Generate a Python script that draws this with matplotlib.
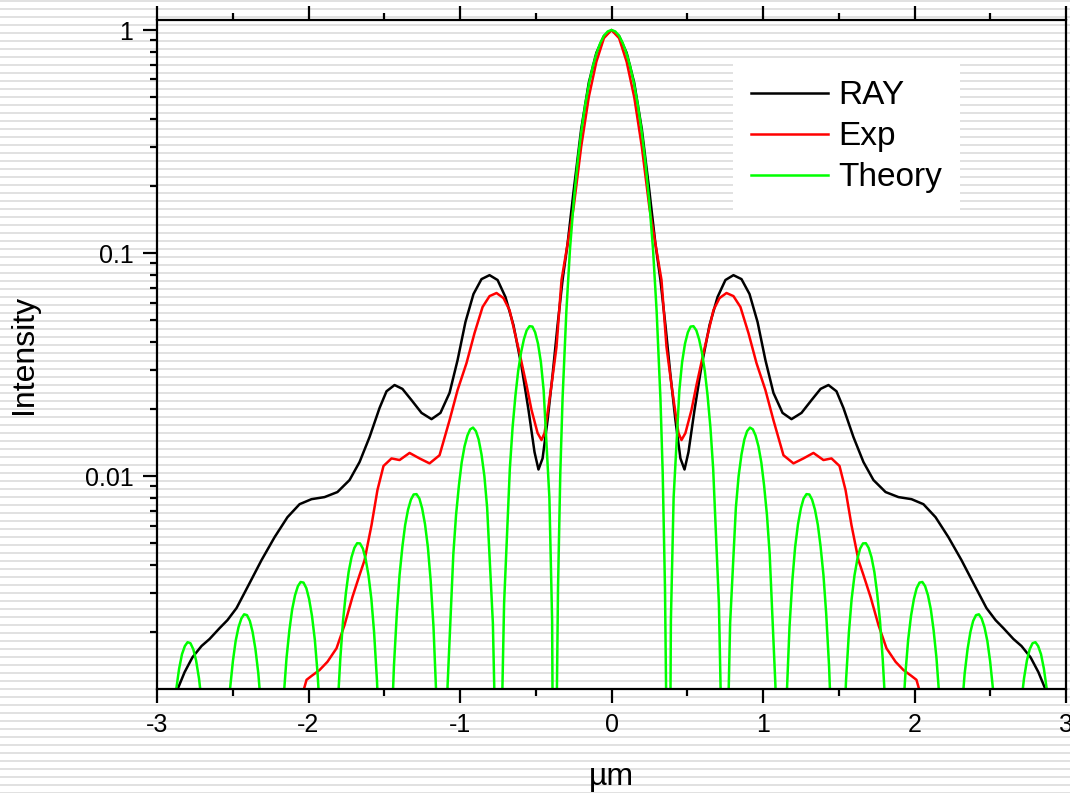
import numpy as np
import matplotlib.pyplot as plt

plt.rcParams['font.family'] = ['Liberation Sans', 'DejaVu Sans']
plt.rcParams['axes.unicode_minus'] = False

# RAY (black)
ray_x = [-2.878, -2.818, -2.766, -2.706, -2.653, -2.587, -2.535, -2.475, -2.389, -2.310, -2.224, -2.139,
         -2.059, -1.980, -1.894, -1.809, -1.729, -1.663, -1.597, -1.531, -1.485, -1.432, -1.380, -1.320,
         -1.254, -1.188, -1.129, -1.069, -1.016, -0.964, -0.911, -0.858, -0.805, -0.752, -0.700, -0.647,
         -0.594, -0.548, -0.508, -0.482, -0.455, -0.422, -0.389, -0.356, -0.323, -0.29, -0.25, -0.2,
         -0.15, -0.1, -0.05, 0.0,
         0.05, 0.1, 0.15, 0.2, 0.25, 0.29, 0.323, 0.356, 0.389, 0.422, 0.455, 0.482,
         0.508, 0.548, 0.594, 0.647, 0.700, 0.752, 0.805, 0.858, 0.911, 0.964, 1.016, 1.069,
         1.129, 1.188, 1.254, 1.320, 1.380, 1.432, 1.485, 1.531, 1.597, 1.663, 1.729, 1.809,
         1.894, 1.980, 2.059, 2.139, 2.224, 2.310, 2.389, 2.475, 2.535, 2.587, 2.653, 2.706,
         2.766, 2.818, 2.878]
ray_y = [0.00105, 0.00132, 0.00154, 0.00173, 0.00186, 0.00208, 0.00226, 0.00256, 0.00331, 0.0042, 0.00532, 0.00654,
         0.00748, 0.00788, 0.00805, 0.00848, 0.0096, 0.01156, 0.01496, 0.0202, 0.0240, 0.0256, 0.0246, 0.0219,
         0.0192, 0.0180, 0.0192, 0.0236, 0.0331, 0.0491, 0.0655, 0.0764, 0.0796, 0.0757, 0.0635, 0.0475,
         0.0311, 0.0198, 0.0128, 0.0107, 0.0120, 0.0178, 0.0284, 0.0475, 0.0757, 0.11, 0.19, 0.36,
         0.58, 0.79, 0.94, 1.0,
         0.94, 0.79, 0.58, 0.36, 0.19, 0.11, 0.0757, 0.0475, 0.0284, 0.0178, 0.0120, 0.0107,
         0.0128, 0.0198, 0.0311, 0.0475, 0.0635, 0.0757, 0.0796, 0.0764, 0.0655, 0.0491, 0.0331, 0.0236,
         0.0192, 0.0180, 0.0192, 0.0219, 0.0246, 0.0256, 0.0240, 0.0202, 0.01496, 0.01156, 0.0096, 0.00848,
         0.00805, 0.00788, 0.00748, 0.00654, 0.00532, 0.0042, 0.00331, 0.00256, 0.00226, 0.00208, 0.00186, 0.00173,
         0.00154, 0.00132, 0.00105]

# Exp (red)
exp_x = [-2.040, -2.013, -1.980, -1.927, -1.875, -1.815, -1.762, -1.710, -1.663, -1.630, -1.584, -1.545,
         -1.505, -1.452, -1.399, -1.333, -1.267, -1.201, -1.135, -1.069, -1.016, -0.957, -0.904, -0.851,
         -0.805, -0.759, -0.713, -0.673, -0.607, -0.561, -0.528, -0.488, -0.462, -0.442, -0.422, -0.396,
         -0.363, -0.330, -0.30, -0.25, -0.2, -0.15, -0.1, -0.05, 0.0,
         0.05, 0.1, 0.15, 0.2, 0.25, 0.30, 0.330, 0.363, 0.396, 0.422, 0.442, 0.462,
         0.488, 0.528, 0.561, 0.607, 0.673, 0.713, 0.759, 0.805, 0.851, 0.904, 0.957, 1.016,
         1.069, 1.135, 1.201, 1.267, 1.333, 1.399, 1.452, 1.505, 1.545, 1.584, 1.630, 1.663,
         1.710, 1.762, 1.815, 1.875, 1.927, 1.980, 2.013, 2.040]
exp_y = [0.00105, 0.00122, 0.00127, 0.00135, 0.00147, 0.00169, 0.00215, 0.00287, 0.0036, 0.0042, 0.00603, 0.00865,
         0.0111, 0.0120, 0.0118, 0.0127, 0.0120, 0.0114, 0.0124, 0.0178, 0.0243, 0.0321, 0.0438, 0.0573,
         0.0641, 0.0662, 0.0628, 0.0555, 0.0356, 0.0256, 0.0198, 0.0156, 0.0145, 0.0156, 0.0192, 0.0256,
         0.0379, 0.0757, 0.10, 0.16, 0.30, 0.50, 0.72, 0.92, 1.0,
         0.92, 0.72, 0.50, 0.30, 0.16, 0.10, 0.0757, 0.0379, 0.0256, 0.0192, 0.0156, 0.0145,
         0.0156, 0.0198, 0.0256, 0.0356, 0.0555, 0.0628, 0.0662, 0.0641, 0.0573, 0.0438, 0.0321, 0.0243,
         0.0178, 0.0124, 0.0114, 0.0120, 0.0127, 0.0118, 0.0120, 0.0111, 0.00865, 0.00603, 0.0042, 0.0036,
         0.00287, 0.00215, 0.00169, 0.00147, 0.00135, 0.00127, 0.00122, 0.00105]

# Theory (green), one row per lobe
theory_x = [-2.984, -2.909, -2.891, -2.872, -2.854, -2.835, -2.816, -2.798, -2.779, -2.760, -2.742, -2.723, -2.704, -2.686,
            -2.611, -2.536, -2.518, -2.499, -2.481, -2.462, -2.443, -2.425, -2.406, -2.387, -2.369, -2.350, -2.331, -2.313,
            -2.238, -2.201, -2.182, -2.163, -2.145, -2.126, -2.108, -2.089, -2.070, -2.052, -2.033, -2.014, -1.996, -1.977, -1.958, -1.940, -1.921, -1.902,
            -1.865, -1.828, -1.809, -1.790, -1.772, -1.753, -1.735, -1.716, -1.697, -1.679, -1.660, -1.641, -1.623, -1.604, -1.585, -1.567, -1.548, -1.529,
            -1.492, -1.455, -1.436, -1.417, -1.399, -1.380, -1.362, -1.343, -1.324, -1.306, -1.287, -1.268, -1.250, -1.231, -1.212, -1.194, -1.175, -1.156,
            -1.119, -1.100, -1.082, -1.044, -1.026, -1.007, -0.989, -0.970, -0.951, -0.933, -0.914, -0.895, -0.877, -0.858, -0.839, -0.821, -0.783, -0.765,
            -0.746, -0.727, -0.709, -0.671, -0.653, -0.634, -0.616, -0.597, -0.578, -0.560, -0.541, -0.522, -0.504, -0.485, -0.466, -0.448, -0.410, -0.392,
            -0.373, -0.363, -0.353, -0.338, -0.323, -0.298, -0.274, -0.249, -0.224, -0.199, -0.174, -0.149, -0.124, -0.099, -0.074, -0.050, -0.025,
            0.0,
            0.025, 0.050, 0.074, 0.099, 0.124, 0.149, 0.174, 0.199, 0.224, 0.249, 0.274, 0.298, 0.323, 0.338, 0.353, 0.363, 0.373,
            0.392, 0.410, 0.448, 0.466, 0.485, 0.504, 0.522, 0.541, 0.560, 0.578, 0.597, 0.616, 0.634, 0.653, 0.671, 0.709, 0.727, 0.746,
            0.765, 0.783, 0.821, 0.839, 0.858, 0.877, 0.895, 0.914, 0.933, 0.951, 0.970, 0.989, 1.007, 1.026, 1.044, 1.082, 1.100, 1.119,
            1.156, 1.175, 1.194, 1.212, 1.231, 1.250, 1.268, 1.287, 1.306, 1.324, 1.343, 1.362, 1.380, 1.399, 1.417, 1.436, 1.455, 1.492,
            1.529, 1.548, 1.567, 1.585, 1.604, 1.623, 1.641, 1.660, 1.679, 1.697, 1.716, 1.735, 1.753, 1.772, 1.790, 1.809, 1.828, 1.865,
            1.902, 1.921, 1.940, 1.958, 1.977, 1.996, 2.014, 2.033, 2.052, 2.070, 2.089, 2.108, 2.126, 2.145, 2.163, 2.182, 2.201, 2.238,
            2.313, 2.331, 2.350, 2.369, 2.387, 2.406, 2.425, 2.443, 2.462, 2.481, 2.499, 2.518, 2.536, 2.611,
            2.686, 2.704, 2.723, 2.742, 2.760, 2.779, 2.798, 2.816, 2.835, 2.854, 2.872, 2.891, 2.909, 2.984]
theory_y = [1e-5, 0.00058, 0.00084, 0.00112, 0.00137, 0.00159, 0.00173, 0.00180, 0.00178, 0.00167, 0.00149, 0.00124, 0.00096, 0.00068,
            1e-5, 0.00076, 0.00111, 0.00148, 0.00182, 0.00210, 0.00230, 0.00240, 0.00238, 0.00224, 0.00200, 0.00167, 0.00130, 0.00091,
            1e-5, 0.00028, 0.00061, 0.00104, 0.00153, 0.00204, 0.00252, 0.00292, 0.00321, 0.00335, 0.00333, 0.00314, 0.00281, 0.00236, 0.00184, 0.00130, 0.00079, 0.00037,
            1e-5, 0.00040, 0.00089, 0.00152, 0.00225, 0.00300, 0.00372, 0.00433, 0.00477, 0.00500, 0.00499, 0.00473, 0.00425, 0.00359, 0.00281, 0.00199, 0.00121, 0.00058,
            1e-5, 0.00064, 0.00141, 0.00242, 0.00360, 0.00484, 0.00604, 0.00707, 0.00784, 0.00827, 0.00830, 0.00793, 0.00717, 0.00609, 0.00480, 0.00342, 0.00211, 0.00101,
            1e-5, 0.00029, 0.00115, 0.00447, 0.0067, 0.0091, 0.0115, 0.0136, 0.0152, 0.0162, 0.0165, 0.0159, 0.0146, 0.0125, 0.0100, 0.00723, 0.00219, 0.00059,
            1e-5, 0.00065, 0.00268, 0.0108, 0.0165, 0.0230, 0.0296, 0.0358, 0.0411, 0.0450, 0.0470, 0.0468, 0.0441, 0.0392, 0.0324, 0.0243, 0.00800, 0.00225,
            1e-5, 0.00075, 0.00315, 0.0103, 0.0223, 0.0547, 0.1041, 0.1710, 0.2546, 0.3523, 0.4601, 0.5729, 0.6839, 0.7868, 0.8751, 0.9427, 0.9855,
            1.0,
            0.9855, 0.9427, 0.8751, 0.7868, 0.6839, 0.5729, 0.4601, 0.3523, 0.2546, 0.1710, 0.1041, 0.0547, 0.0223, 0.0103, 0.00315, 0.00075, 1e-5,
            0.00225, 0.00800, 0.0243, 0.0324, 0.0392, 0.0441, 0.0468, 0.0470, 0.0450, 0.0411, 0.0358, 0.0296, 0.0230, 0.0165, 0.0108, 0.00268, 0.00065, 1e-5,
            0.00059, 0.00219, 0.00723, 0.0100, 0.0125, 0.0146, 0.0159, 0.0165, 0.0162, 0.0152, 0.0136, 0.0115, 0.0091, 0.0067, 0.00447, 0.00115, 0.00029, 1e-5,
            0.00101, 0.00211, 0.00342, 0.00480, 0.00609, 0.00717, 0.00793, 0.00830, 0.00827, 0.00784, 0.00707, 0.00604, 0.00484, 0.00360, 0.00242, 0.00141, 0.00064, 1e-5,
            0.00058, 0.00121, 0.00199, 0.00281, 0.00359, 0.00425, 0.00473, 0.00499, 0.00500, 0.00477, 0.00433, 0.00372, 0.00300, 0.00225, 0.00152, 0.00089, 0.00040, 1e-5,
            0.00037, 0.00079, 0.00130, 0.00184, 0.00236, 0.00281, 0.00314, 0.00333, 0.00335, 0.00321, 0.00292, 0.00252, 0.00204, 0.00153, 0.00104, 0.00061, 0.00028, 1e-5,
            0.00091, 0.00130, 0.00167, 0.00200, 0.00224, 0.00238, 0.00240, 0.00230, 0.00210, 0.00182, 0.00148, 0.00111, 0.00076, 1e-5,
            0.00068, 0.00096, 0.00124, 0.00149, 0.00167, 0.00178, 0.00180, 0.00173, 0.00159, 0.00137, 0.00112, 0.00084, 0.00058, 1e-5]

xticks = [-3, -2, -1, 0, 1, 2, 3]
yticks = [0.01, 0.1, 1]
ytick_labels = ['0.01', '0.1', '1']

W, H = 1070, 793
fig = plt.figure(figsize=(W / 100, H / 100), dpi=100, facecolor='white')

# striped backdrop (light gray lines every 8 px)
stripes = np.ones((H, 1))
for r in range(0, H, 8):
    stripes[r:r + 2, 0] = 0.88
bg = fig.add_axes([0, 0, 1, 1], zorder=-10)
bg.imshow(stripes, aspect='auto', interpolation='nearest', cmap='gray', vmin=0, vmax=1)
bg.axis('off')

ax = fig.add_axes([157 / W, 1 - 689 / H, (1066 - 157) / W, (689 - 20) / H])
ax.patch.set_alpha(0)

ax.plot(ray_x, ray_y, color='black', lw=1.8, label='RAY')
ax.plot(exp_x, exp_y, color='#ff0000', lw=1.8, label='Exp')
ax.plot(theory_x, theory_y, color='#00ff00', lw=1.8, label='Theory')

ax.set_yscale('log')
ax.set_xlim(-3, 3)
ax.set_ylim(0.00111, 1.109)
ax.set_xticks(xticks)
ax.set_xticks(np.arange(-2.5, 3, 1.0), minor=True)
ax.set_yticks(yticks)
ax.set_yticklabels(ytick_labels)

for s in ax.spines.values():
    s.set_linewidth(1.6)
ax.tick_params(which='both', direction='out', width=1.6, labelsize=18, pad=7,
               top=True, bottom=True, left=True, right=False)
ax.tick_params(which='major', length=10)
ax.tick_params(which='minor', length=5)
ax.tick_params(axis='x', labeltop=False)

ax.set_xlabel('µm', fontsize=23, labelpad=18)
ax.set_ylabel('Intensity', fontsize=23, labelpad=33)

leg = ax.legend(loc='upper left', bbox_to_anchor=(733 / W, 1 - 62 / H), bbox_transform=fig.transFigure,
                fontsize=24, frameon=True, fancybox=False, framealpha=1, handlelength=2.3,
                handletextpad=0.3, labelspacing=0.3, borderpad=0.55, borderaxespad=0)
leg.get_frame().set_facecolor('white')
leg.get_frame().set_edgecolor('none')

fig.savefig('out.png', dpi=100, facecolor='white')
